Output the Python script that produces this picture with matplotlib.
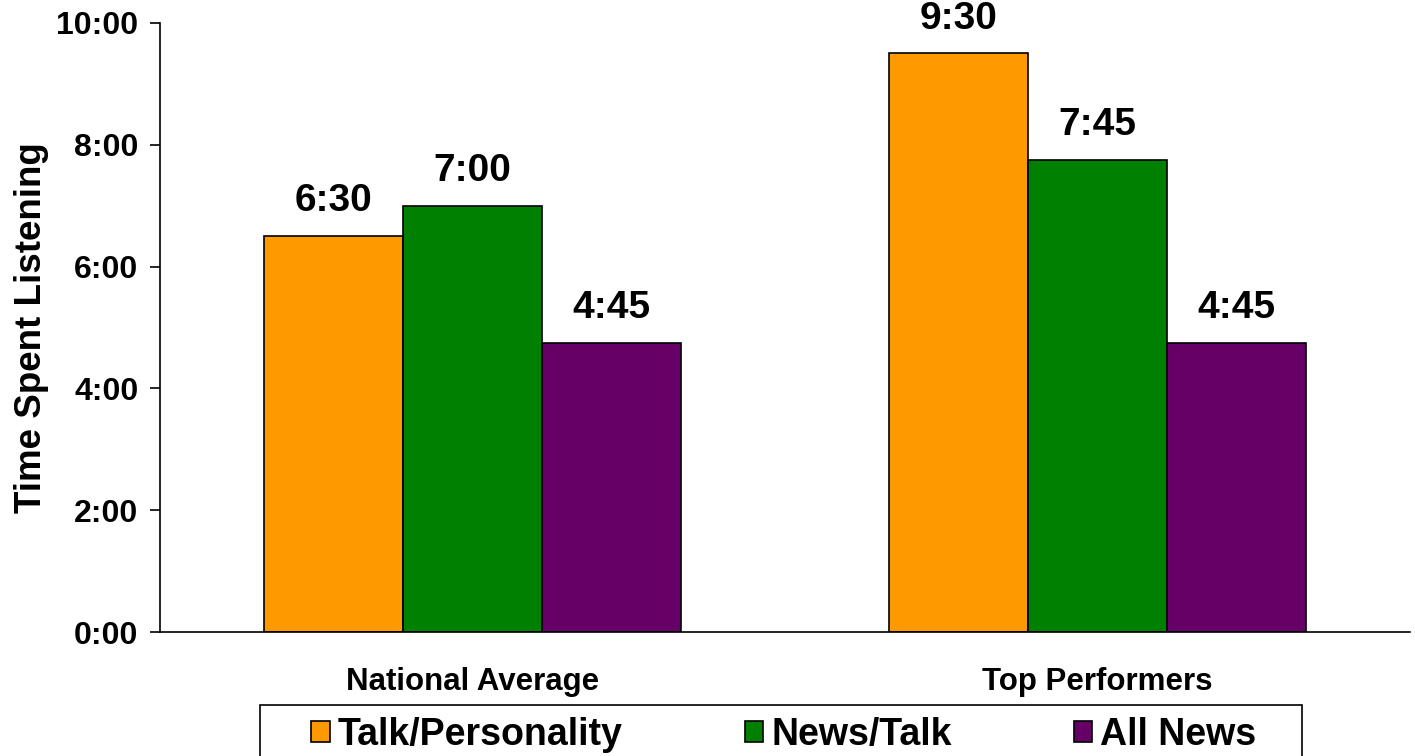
import matplotlib.pyplot as plt
from matplotlib.patches import Rectangle
import numpy as np

plt.rcParams['font.family'] = ['Liberation Sans', 'DejaVu Sans']
plt.rcParams['font.weight'] = 'bold'

# Horas médias de audição por formato
grupos = ['National Average', 'Top Performers']
formatos = ['Talk/Personality', 'News/Talk', 'All News']
talk_personality = [6.5, 9.5]
news_talk = [7.0, 7.75]
all_news = [4.75, 4.75]
cores = ['#FF9900', '#008000', '#660066']
yticks = [0, 2, 4, 6, 8, 10]


def hhmm(h):
    horas = int(h)
    minutos = int(round((h - horas) * 60))
    return f'{horas}:{minutos:02d}'


fig = plt.figure(figsize=(14.15, 7.56), dpi=100)
ax = fig.add_axes([0.1131, 0.164, 0.8834, 0.8056])

x = np.arange(len(grupos))
largura = 0.222
series = [talk_personality, news_talk, all_news]
for i, (valores, nome, cor) in enumerate(zip(series, formatos, cores)):
    barras = ax.bar(x + (i - 1) * largura, valores, largura, color=cor,
                    edgecolor='black', linewidth=1.2, label=nome)
    ax.bar_label(barras, labels=[hhmm(v) for v in valores], padding=12,
                 fontsize=28, fontweight='bold')

ax.set_xlim(-0.5, 1.5)
ax.set_ylim(0, 10)
ax.set_xticks(x)
ax.set_xticklabels(grupos, fontsize=22.5, fontweight='bold')
ax.set_yticks(yticks)
ax.set_yticklabels([f'{t}:00' for t in yticks], fontsize=23, fontweight='bold')
ax.tick_params(axis='x', length=0, pad=25)
ax.tick_params(axis='y', direction='out', length=7.5, width=1.2, pad=8)
ax.set_ylabel('Time Spent Listening', fontsize=26.5, fontweight='bold', labelpad=5)

for lado in ['top', 'right']:
    ax.spines[lado].set_visible(False)
for lado in ['left', 'bottom']:
    ax.spines[lado].set_linewidth(1.2)

# Legenda sem moldura; a caixa é desenhada à parte
leg = fig.legend(loc='center', bbox_to_anchor=(0.554, 0.028), ncol=3,
                 fontsize=27, frameon=False, borderaxespad=0, borderpad=0,
                 handlelength=0.5, handleheight=0.5, handletextpad=0.21,
                 columnspacing=3.25)
for t in leg.get_texts():
    t.set_fontweight('bold')
for h in leg.legend_handles:
    h.set_linewidth(1.2)

caixa = Rectangle((260 / 1415, -0.05), 1042 / 1415, 0.05 + 0.0675,
                  transform=fig.transFigure, fill=False, edgecolor='black',
                  linewidth=1.2)
fig.patches.append(caixa)

fig.savefig('out.png', dpi=100)
